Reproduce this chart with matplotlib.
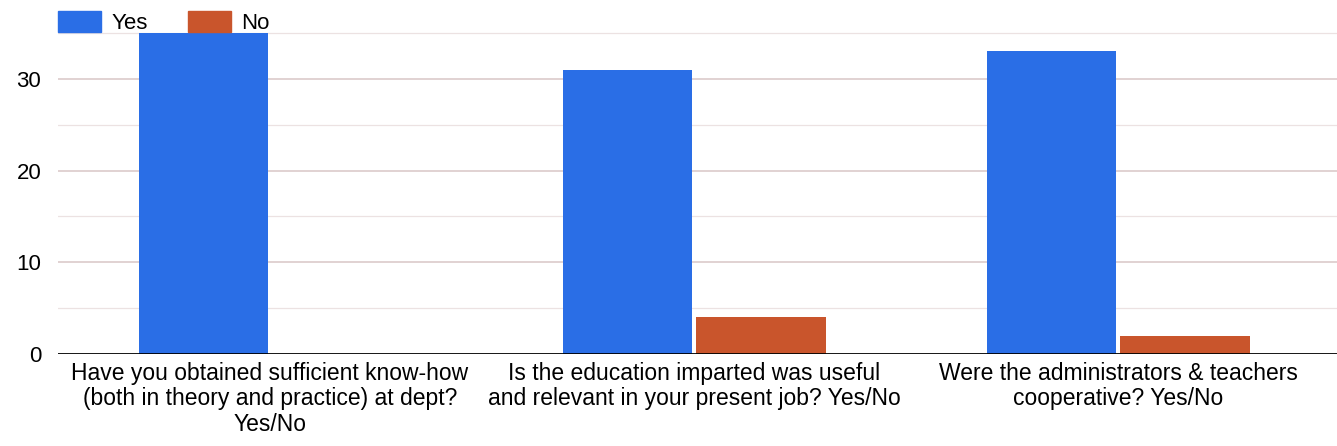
import matplotlib
matplotlib.use("Agg")
import matplotlib.pyplot as plt
import numpy as np
from matplotlib.patches import Patch

plt.rcParams['font.family'] = ['Liberation Sans', 'DejaVu Sans']

categories = [
    "Have you obtained sufficient know-how\n(both in theory and practice) at dept?\nYes/No",
    "Is the education imparted was useful\nand relevant in your present job? Yes/No",
    "Were the administrators & teachers\ncooperative? Yes/No",
]
series_names = ["Yes", "No"]
yes_values = [35, 31, 33]
no_values = [0, 4, 2]
y_ticks = [0, 10, 20, 30]

blue = "#2a6ee6"
orange = "#c9552c"

fig = plt.figure(figsize=(13.37, 4.46), dpi=100)
ax = fig.add_axes([58/1337, 1 - 354/446, 1 - 58/1337, 354/446])

x = np.arange(len(categories))
w = 0.305
ax.bar(x - w/2 - 0.005, yes_values, width=w, color=blue, zorder=3)
ax.bar(x + w/2 + 0.005, no_values, width=w, color=orange, zorder=3)

ax.set_xlim(-0.5, 2.516)
ax.set_ylim(0, 38.6)

for v in range(5, 40, 10):
    ax.axhline(v, color="#ece2e2", lw=0.9, zorder=1)
for v in y_ticks[1:]:
    ax.axhline(v, color="#d9c6c6", lw=1.1, zorder=1)
ax.axhline(0, color="black", lw=2, zorder=4)

ax.set_yticks(y_ticks)
ax.set_yticklabels([str(t) for t in y_ticks], fontsize=16)
ax.tick_params(axis='y', length=0, pad=12)
ax.set_xticks(x)
ax.set_xticklabels(categories, fontsize=16.5, linespacing=1.12)
ax.tick_params(axis='x', length=0, pad=6)
for s in ax.spines.values():
    s.set_visible(False)

handles = [Patch(color=blue), Patch(color=orange)]
fig.legend(handles, series_names, loc="upper left", bbox_to_anchor=(38/1337, 1.02),
           ncol=2, frameon=False, fontsize=16, handlelength=1.95, handleheight=1.05,
           handletextpad=0.45, columnspacing=1.8)

fig.savefig("out.png", dpi=100, facecolor="white")
